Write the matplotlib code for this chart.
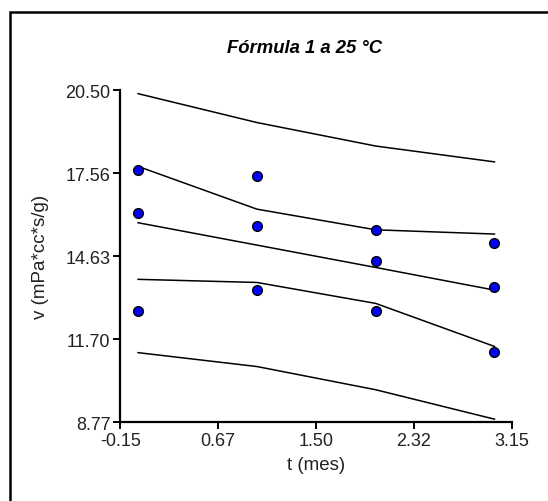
import matplotlib.pyplot as plt
from matplotlib.patches import Rectangle

plt.rcParams['font.family'] = ['Liberation Sans', 'DejaVu Sans']

# mediciones de viscosidad (3 por tiempo)
t_meas = [0, 0, 0, 1, 1, 1, 2, 2, 2, 3, 3, 3]
v_meas = [17.70, 16.15, 12.70, 17.48, 15.69, 13.44,
          15.57, 14.47, 12.70, 15.10, 13.56, 11.26]

t_fit = [0, 1, 2, 3]
v_fit = [15.82, 15.03, 14.24, 13.44]
ci_upper = [17.81, 16.30, 15.57, 15.42]
ci_lower = [13.82, 13.71, 12.97, 11.45]
pi_upper = [20.38, 19.36, 18.53, 17.97]
pi_lower = [11.23, 10.74, 9.92, 8.88]

xticks = [-0.15, 0.67, 1.50, 2.32, 3.15]
yticks = [8.77, 11.70, 14.63, 17.56, 20.50]

fig = plt.figure(figsize=(5.48, 5.02), dpi=100)
ax = fig.add_axes([0.2195, 0.1568, 0.7153, 0.6614])

for band in (pi_upper, ci_upper, v_fit, ci_lower, pi_lower):
    ax.plot(t_fit, band, color='black', lw=1.1)
ax.plot(t_meas, v_meas, 'o', ms=7, mfc='#0000ff', mec='black', mew=1, zorder=3)

ax.set_xlim(-0.15, 3.15)
ax.set_ylim(8.77, 20.50)
ax.set_xticks(xticks)
ax.set_xticklabels(['%.2f' % v for v in xticks])
ax.set_yticks(yticks)
ax.set_yticklabels(['%.2f' % v for v in yticks])

for side in ('top', 'right'):
    ax.spines[side].set_visible(False)
for side in ('left', 'bottom'):
    ax.spines[side].set_linewidth(1.6)
ax.tick_params(direction='out', length=5, width=1.4, labelsize=13,
               labelcolor='#222222', pad=2)

ax.set_xlabel('t (mes)', fontsize=13.5, color='#222222', labelpad=5)
ax.set_ylabel('v (mPa*cc*s/g)', fontsize=13.5, color='#222222', labelpad=12)
fig.text(0.555, 0.903, 'Fórmula 1 a 25 °C', fontsize=13.3,
         fontweight='bold', fontstyle='italic', ha='center', va='center')

# marco exterior
fig.patches.append(Rectangle((10 / 548, -0.02), 1.0, 0.02 + 489 / 502,
                             transform=fig.transFigure, fill=False,
                             edgecolor='black', lw=1.8))

fig.savefig('out.png', dpi=100)
